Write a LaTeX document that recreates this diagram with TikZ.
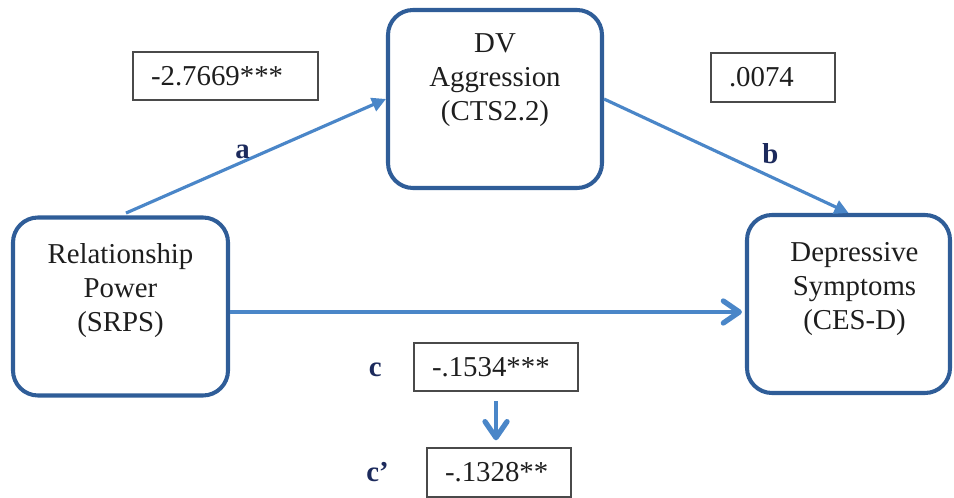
\documentclass[tikz,border=0pt]{standalone}
\usepackage{fontspec}
\setmainfont{Liberation Serif}
\usetikzlibrary{arrows.meta,positioning}
\definecolor{boxblue}{HTML}{2F5D98}
\definecolor{arrowblue}{HTML}{4A86C8}
\definecolor{labelnavy}{HTML}{1C2A5C}
\definecolor{coefgray}{HTML}{4A4A4A}
\definecolor{textgray}{HTML}{1E1E1E}

\begin{document}
\begin{tikzpicture}[
	varbox/.style={draw=boxblue, line width=2.3pt, rounded corners=0.5cm, minimum width=#1, minimum height=3.56cm, inner sep=0pt},
	vartext/.style={align=center, font=\fontsize{16.4}{19.4}\selectfont, text=textgray, inner sep=0pt},
	coef/.style={draw=coefgray, line width=1.1pt, text width=#1, inner xsep=0.36cm, inner ysep=0pt, minimum height=0.97cm, align=left, font=\fontsize{16.4}{19.4}\selectfont, text=textgray},
	effect/.style={draw=arrowblue, line width=1.8pt, -{Triangle[length=2.8mm, width=2.8mm]}},
	total/.style={draw=arrowblue, line width=#1, -{Straight Barb[length=3.2mm, width=4.4mm, line width=3pt, round]}},
	pathlbl/.style={font=\bfseries\fontsize{16.4}{19.4}\selectfont, text=labelnavy, inner sep=0pt}
]
	\useasboundingbox (0,0) rectangle (19.08, 9.96);
	
	\node[varbox=4.3cm] (srps) at (2.41, 3.83) {};
	\node[varbox=4.28cm] (dva) at (9.9, 7.98) {};
	\node[varbox=4.06cm] (cesd) at (16.97, 3.88) {};
	
	\node[vartext] (srpstxt) at ([yshift=0.32cm]srps.center) {Relationship\\Power\\(SRPS)};
	\node[vartext] (dvatxt) at ([yshift=0.38cm]dva.center) {DV\\Aggression\\(CTS2.2)};
	\node[vartext] (cesdtxt) at ([xshift=0.12cm, yshift=0.3cm]cesd.center) {Depressive\\Symptoms\\(CES-D)};
	
	\node[coef=2.98cm] (coefa) at (4.51, 8.44) {-2.7669***};
	\node[coef=1.76cm] (coefb) at (15.46, 8.41) {.0074};
	\node[coef=2.56cm] (coefc) at (9.92, 2.62) {-.1534***};
	\node[coef=2.16cm] (coefcp) at (9.98, 0.51) {-.1328**};
	
	\draw[effect, shorten <=0.12cm] (srps.north) -- (dva.west) node[pathlbl, pos=0.46, above=0.04cm] (lbla) {a};
	\draw[effect] (dva.east) -- (cesd.north) node[pathlbl, pos=0.68, above=0.22cm] (lblb) {b};
	\draw[total=2pt, shorten >=0.06cm] ([yshift=-0.11cm]srps.east) -- ([yshift=-0.11cm]srps.east -| cesd.west);
	\draw[total=2.6pt, shorten <=0.18cm, shorten >=0.14cm] (coefc.south) -- (coefc.south |- coefcp.north);
	
	\node[pathlbl, anchor=base east] (lblc) at ([xshift=-0.62cm]coefc.base west) {c};
	\node[pathlbl, anchor=base east] (lblcp) at ([xshift=-0.74cm]coefcp.base west) {c'};
\end{tikzpicture}
\end{document}
